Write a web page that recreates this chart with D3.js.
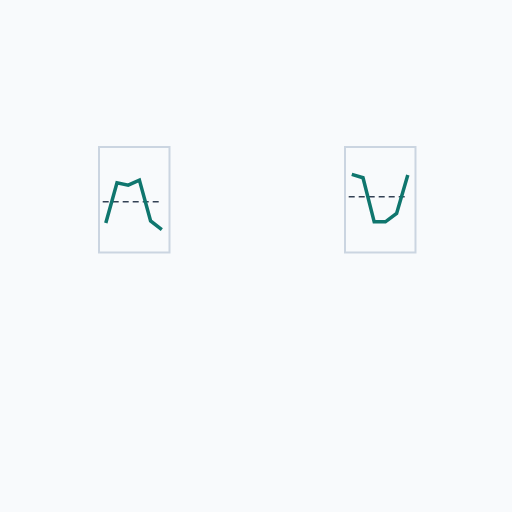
<!DOCTYPE html>
<html>
<head>
<meta charset="utf-8">
<script src="https://cdn.jsdelivr.net/npm/d3@7"></script>
<style>
html,body{margin:0;padding:0;background:#f8fafc;}
svg{display:block;}
</style>
</head>
<body>
<svg id="chart" width="512" height="512"></svg>
<script>
const panels = ["A", "B"];
const steps = [0, 1, 2, 3, 4, 5];
const seriesA = [27.9, 66.0, 63.8, 68.6, 29.8, 21.6];
const seriesB = [74.0, 70.8, 28.9, 28.9, 36.9, 73.3];
const refs = [47.9, 52.7];

const values = [seriesA, seriesB];
const svg = d3.select("#chart");
svg.append("rect").attr("width", 512).attr("height", 512).attr("fill", "#f8fafc");

const pw = 70.5, ph = 105.5;
const px = d3.scalePoint().domain(panels).range([99, 345]);
const x = d3.scalePoint().domain(steps).range([6.8, 62.8]);
const y = d3.scaleLinear().domain([0, 100]).range([105.3, 0]);

const line = d3.line().x((d, i) => x(steps[i])).y(d => y(d));

panels.forEach((p, k) => {
  const g = svg.append("g").attr("transform", `translate(${px(p)},147)`);
  g.append("rect").attr("width", pw).attr("height", ph)
    .attr("fill", "none").attr("stroke", "#cbd5e1").attr("stroke-width", 2);
  g.append("line").attr("x1", 3.7).attr("x2", 63.5)
    .attr("y1", y(refs[k])).attr("y2", y(refs[k]))
    .attr("stroke", "#334155").attr("stroke-width", 1.5)
    .attr("stroke-dasharray", "6,4");
  g.append("path").datum(values[k]).attr("d", line)
    .attr("fill", "none").attr("stroke", "#0f766e").attr("stroke-width", 3.5)
    .attr("stroke-linejoin", "miter").attr("stroke-linecap", "butt");
});
</script>
</body>
</html>
